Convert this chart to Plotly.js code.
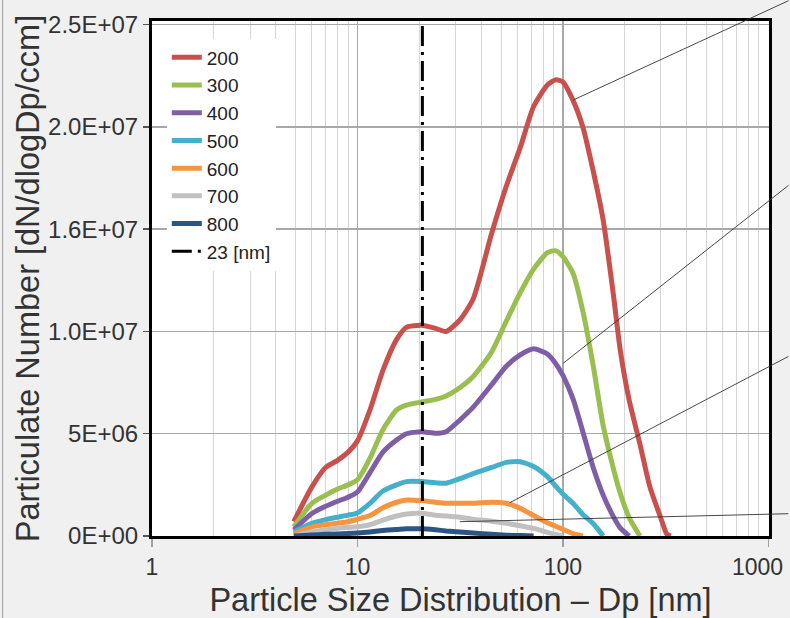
<!DOCTYPE html>
<html>
<head>
<meta charset="utf-8">
<script src="https://cdn.plot.ly/plotly-3.0.1.min.js"></script>
<style>html,body{margin:0;padding:0;background:#f0f0f0;}#chart{width:790px;height:618px;}</style>
</head>
<body>
<div id="chart"></div>
<script>
// Particle diameter grid [nm]
const dp = [4.9, 6, 7, 8, 9, 10, 11.5, 13.3, 15.5, 17.3, 20.5, 24, 27, 31.5, 36.6, 45, 53, 62, 72, 84, 92, 100, 112, 125, 140, 157, 176, 190, 210, 237, 265, 298, 320, 335];

// dN/dlogDp values per series
const s200 = [0.7e6, 2.4e6, 3.35e6, 3.7e6, 4.1e6, 4.65e6, 6.16e6, 8.1e6, 9.6e6, 10.2e6, 10.3e6, 10.15e6, 10.0e6, 10.56e6, 11.6e6, 14.8e6, 17.1e6, 19.0e6, 21.0e6, 22.05e6, 22.3e6, 22.2e6, 21.3e6, 20.0e6, 17.9e6, 15.45e6, 11.8e6, 9.1e6, 6.65e6, 4.5e6, 2.4e6, 0.94e6, 0.1e6, 0];
const s300 = [0.45e6, 1.6e6, 2.0e6, 2.3e6, 2.5e6, 2.75e6, 3.8e6, 5.2e6, 6.16e6, 6.4e6, 6.55e6, 6.68e6, 6.85e6, 7.25e6, 7.8e6, 9.0e6, 10.5e6, 11.9e6, 13.05e6, 13.85e6, 13.95e6, 13.66e6, 12.85e6, 11.0e6, 8.4e6, 5.4e6, 3.3e6, 2.1e6, 0.9e6, 0];
const s400 = [0.3e6, 1.1e6, 1.45e6, 1.7e6, 1.9e6, 2.15e6, 3.1e6, 4.1e6, 4.69e6, 5.0e6, 5.1e6, 5.02e6, 5.1e6, 5.67e6, 6.3e6, 7.4e6, 8.3e6, 8.85e6, 9.15e6, 8.9e6, 8.45e6, 7.85e6, 6.7e6, 5.1e6, 3.39e6, 2.0e6, 0.95e6, 0.4e6, 0];
const s500 = [0.2e6, 0.62e6, 0.8e6, 0.92e6, 1.02e6, 1.13e6, 1.6e6, 2.2e6, 2.5e6, 2.66e6, 2.66e6, 2.6e6, 2.58e6, 2.8e6, 3.05e6, 3.35e6, 3.6e6, 3.63e6, 3.4e6, 2.9e6, 2.45e6, 2.05e6, 1.6e6, 1.05e6, 0.62e6, 0];
const s600 = [0.1e6, 0.45e6, 0.55e6, 0.63e6, 0.7e6, 0.82e6, 1.0e6, 1.38e6, 1.65e6, 1.76e6, 1.73e6, 1.65e6, 1.6e6, 1.6e6, 1.6e6, 1.65e6, 1.6e6, 1.35e6, 1.0e6, 0.65e6, 0.48e6, 0.33e6, 0.12e6, 0];
const s700 = [0, 0.2e6, 0.3e6, 0.38e6, 0.42e6, 0.45e6, 0.55e6, 0.78e6, 0.98e6, 1.08e6, 1.11e6, 1.02e6, 0.98e6, 0.92e6, 0.82e6, 0.72e6, 0.62e6, 0.5e6, 0.37e6, 0.18e6, 0.08e6, 0];
const s800 = [0, 0.05e6, 0.08e6, 0.1e6, 0.12e6, 0.15e6, 0.2e6, 0.27e6, 0.32e6, 0.35e6, 0.35e6, 0.3e6, 0.25e6, 0.2e6, 0.15e6, 0.08e6, 0.04e6, 0.02e6, 0];

const seriesNames = ['200', '300', '400', '500', '600', '700', '800'];
const seriesValues = [s200, s300, s400, s500, s600, s700, s800];
const seriesColors = ['#c8504d', '#98bf4f', '#7f5ea8', '#45b0cc', '#f79440', '#c0c0c0', '#2b5587'];

// cut-off marker
const cutoffName = '23 [nm]';
const cutoffDp = 20.7;
const cutoffY = [0, 2.518e7];

// axis ticks (last x label is placed as an annotation so it stays inside the figure)
const xTickVals = [1, 10, 100, 1000];
const xTickText = ['1', '10', '100', '1000'];
const yTickVals = [0, 5e6, 1e7, 1.5e7, 2e7, 2.5e7];
const yTickText = ['0E+00', '5E+06', '1.0E+07', '1.6E+07', '2.0E+07', '2.5E+07'];

// leader lines (curve anchor points [Dp, value])
const leaderX = [112.4, 100.5, 55.2, 31.5];
const leaderY = [21.32e6, 8.45e6, 1.63e6, 0.70e6];
const leaderDX = [217, 227, 280, 330];
const leaderDY = [-100, -179, -147, -8];

const FONT = 'Arial, "Liberation Sans", sans-serif';

const traces = seriesNames.map((n, i) => ({
  type: 'scatter',
  mode: 'lines',
  name: n,
  x: dp.slice(0, seriesValues[i].length),
  y: seriesValues[i],
  line: {color: seriesColors[i], width: 5, shape: 'spline', smoothing: 0.6},
  hoverinfo: 'x+y'
}));
traces.push({
  type: 'scatter',
  mode: 'lines',
  name: cutoffName,
  x: [cutoffDp, cutoffDp],
  y: cutoffY,
  line: {color: '#000000', width: 3, dash: '20px,6px,3px,6px'}
});

const annotations = leaderX.map((x, i) => ({
  x: Math.log10(x), y: leaderY[i], xref: 'x', yref: 'y',
  text: '', showarrow: true, arrowhead: 0, arrowwidth: 0.9, arrowcolor: '#333',
  ax: leaderDX[i], ay: leaderDY[i], standoff: 0, startstandoff: 0
}));
const lastIdx = xTickVals.length - 1;
annotations.push({
  x: Math.log10(xTickVals[lastIdx]), xref: 'x', y: -0.06, yref: 'paper',
  text: xTickText[lastIdx], showarrow: false, xanchor: 'center', yanchor: 'middle',
  xshift: -11, font: {family: FONT, size: 23, color: '#333'}
});

const layout = {
  width: 790, height: 618,
  margin: {l: 152, r: 21, t: 21, b: 82},
  paper_bgcolor: '#f0f0f0',
  plot_bgcolor: '#ffffff',
  font: {family: FONT, color: '#333333'},
  showlegend: true,
  legend: {
    x: 0.024, y: 0.966, xanchor: 'left', yanchor: 'top',
    bgcolor: '#ffffff', borderwidth: 0,
    font: {family: FONT, size: 19, color: '#222'},
    tracegroupgap: 0
  },
  xaxis: {
    type: 'log', range: [0, 3.003],
    tickmode: 'array', tickvals: xTickVals,
    ticktext: xTickText.map((t, i) => (i === lastIdx ? ' ' : t)),
    ticks: 'outside', ticklen: 8, tickwidth: 1.5, tickcolor: '#a0a0a0',
    tickfont: {family: FONT, size: 23, color: '#333'},
    showgrid: true, gridcolor: '#a8a8a8', gridwidth: 1.5,
    minor: {tickmode: 'linear', dtick: 'D1', showgrid: true, gridcolor: '#d6d6d6', gridwidth: 1, ticks: ''},
    showline: true, mirror: true, linecolor: '#000', linewidth: 3,
    zeroline: false,
    title: {text: 'Particle Size Distribution \u2013 Dp [nm]', font: {family: FONT, size: 32.5, color: '#333'}}
  },
  yaxis: {
    range: [0, 2.518e7],
    tickmode: 'array', tickvals: yTickVals, ticktext: yTickText,
    ticks: 'outside', ticklen: 6, tickwidth: 1.5, tickcolor: '#555',
    tickfont: {family: FONT, size: 24, color: '#333'},
    showgrid: true, gridcolor: '#a8a8a8', gridwidth: 1.5,
    showline: true, mirror: true, linecolor: '#000', linewidth: 3,
    zeroline: false,
    title: {text: 'Particulate Number [dN/dlogDp/ccm]', font: {family: FONT, size: 32.5, color: '#333'}}
  },
  shapes: [
    {type: 'rect', xref: 'paper', yref: 'paper', x0: 0, x1: 0.208, y0: 0.530, y1: 0.963,
     fillcolor: '#ffffff', line: {width: 0}, layer: 'between'},
    {type: 'line', xref: 'paper', yref: 'paper', x0: -0.242, x1: -0.242, y0: -0.17, y1: 1.05,
     line: {color: '#9a9a9a', width: 1}}
  ],
  annotations: annotations
};

Plotly.newPlot('chart', traces, layout, {displayModeBar: false, staticPlot: true});
</script>
</body>
</html>
